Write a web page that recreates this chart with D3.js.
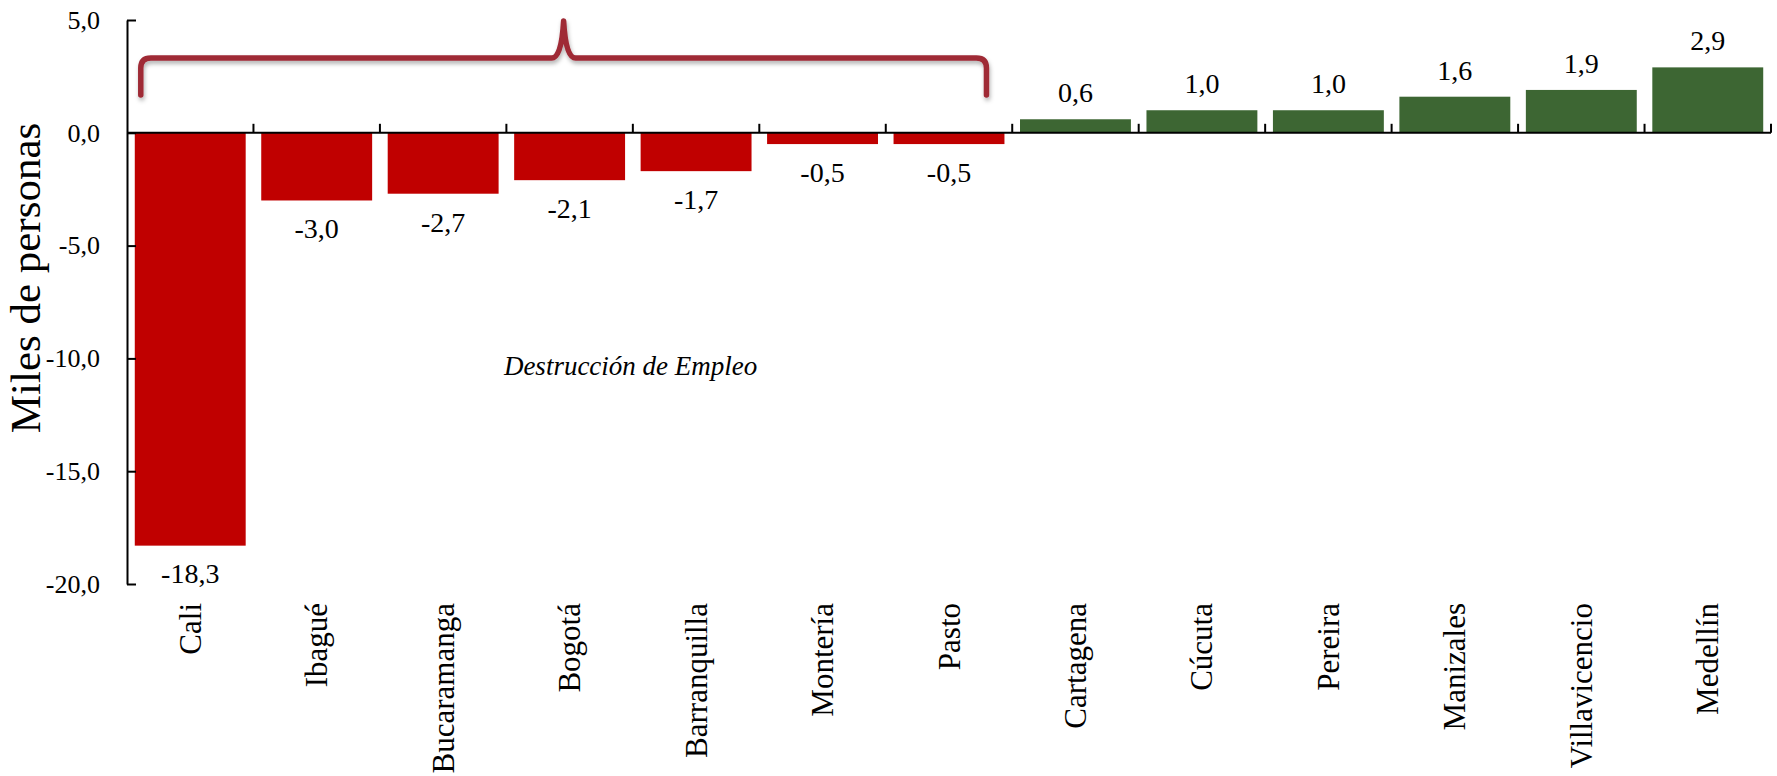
<!DOCTYPE html>
<html>
<head>
<meta charset="utf-8">
<script src="https://cdn.jsdelivr.net/npm/d3@7"></script>
<style>
  html, body { margin: 0; padding: 0; background: #ffffff; }
  svg { display: block; }
  text { font-family: "Liberation Serif", "Times New Roman", serif; fill: #000; }
</style>
</head>
<body>
<svg id="chart" width="1777" height="776"></svg>
<script>
// Variación del empleo por ciudad (miles de personas)
const cities = ["Cali", "Ibagué", "Bucaramanga", "Bogotá", "Barranquilla", "Montería", "Pasto",
                "Cartagena", "Cúcuta", "Pereira", "Manizales", "Villavicencio", "Medellín"];
const changes = [-18.3, -3.0, -2.7, -2.1, -1.7, -0.5, -0.5, 0.6, 1.0, 1.0, 1.6, 1.9, 2.9];
const yTicks = [5, 0, -5, -10, -15, -20];
const yTitle = "Miles de personas";
const braceNote = "Destrucción de Empleo";
// cities covered by the brace
const braceFrom = "Cali";
const braceTo = "Pasto";

(function () {
  const svg = d3.select("#chart");
  const plotLeft = 127, plotRight = 1771, plotTop = 20, plotBottom = 584;

  const locale = d3.formatLocale({ decimal: ",", thousands: ".", grouping: [3], currency: ["$", ""], minus: "-" });
  const fmt = locale.format(".1f");

  const x = d3.scaleBand().domain(cities).range([plotLeft, plotRight]).paddingInner(0.123).paddingOuter(0.0615);
  const y = d3.scaleLinear().domain([-20, 5]).range([plotBottom, plotTop]);
  const step = x.step(), bw = x.bandwidth();

  const data = cities.map((c, i) => ({ city: c, value: changes[i] }));

  // drop shadow for the brace
  const defs = svg.append("defs");
  const f = defs.append("filter").attr("id", "shadow").attr("x", "-5%").attr("y", "-50%").attr("width", "110%").attr("height", "200%");
  f.append("feDropShadow").attr("dx", 1).attr("dy", 3).attr("stdDeviation", 2)
    .attr("flood-color", "#000").attr("flood-opacity", 0.3);

  // bars
  svg.append("g").selectAll("rect").data(data).join("rect")
    .attr("x", d => x(d.city))
    .attr("width", bw)
    .attr("y", d => y(Math.max(0, d.value)))
    .attr("height", d => Math.abs(y(d.value) - y(0)))
    .attr("fill", d => d.value < 0 ? "#C00000" : "#3D6633");

  // value labels
  svg.append("g").selectAll("text").data(data).join("text")
    .attr("x", d => x(d.city) + bw / 2)
    .attr("y", d => d.value < 0 ? y(d.value) + 28 : y(d.value) - 27)
    .attr("dy", "0.35em")
    .attr("text-anchor", "middle")
    .style("font-size", "28px")
    .text(d => fmt(d.value));

  // y axis with inward ticks
  const yAxis = d3.axisLeft(y).tickValues(yTicks).tickFormat(fmt).tickSizeInner(-9).tickSizeOuter(0).tickPadding(27);
  const gy = svg.append("g").attr("transform", `translate(${plotLeft},0)`).call(yAxis);
  gy.select(".domain").attr("stroke", "#000").attr("stroke-width", 2);
  gy.selectAll(".tick line").attr("stroke", "#000").attr("stroke-width", 2);
  gy.selectAll(".tick text").attr("fill", "#000").style("font-size", "26px").style("font-family", "Liberation Serif, serif");

  // category axis at zero, ticks at category boundaries pointing up
  const gx = svg.append("g");
  gx.append("line").attr("x1", plotLeft).attr("x2", plotRight).attr("y1", y(0)).attr("y2", y(0))
    .attr("stroke", "#000").attr("stroke-width", 2);
  gx.selectAll("line.tick").data(cities).join("line").attr("class", "tick")
    .attr("x1", d => x(d) + bw + (step - bw) / 2)
    .attr("x2", d => x(d) + bw + (step - bw) / 2)
    .attr("y1", y(0)).attr("y2", y(0) - 9)
    .attr("stroke", "#000").attr("stroke-width", 2);

  // category labels, rotated
  svg.append("g").selectAll("text").data(cities).join("text")
    .attr("transform", d => `translate(${x(d) + bw / 2 + 10.5},603) rotate(-90)`)
    .attr("text-anchor", "end")
    .style("font-size", "31px")
    .text(d => d);

  // y axis title
  svg.append("text")
    .attr("transform", `translate(40,278) rotate(-90)`)
    .attr("text-anchor", "middle")
    .style("font-size", "43px")
    .text(yTitle);

  // brace over the cities that lost jobs
  const bx0 = x(braceFrom) + 6, bx1 = x(braceTo) + bw - 18;
  const bmid = (bx0 + bx1) / 2;
  const yLine = 58, yEnd = 95, yPeak = 21, r = 10;
  const p = d3.path();
  p.moveTo(bx0, yEnd);
  p.lineTo(bx0, yLine + r);
  p.quadraticCurveTo(bx0, yLine, bx0 + r, yLine);
  p.lineTo(bmid - 12, yLine);
  p.quadraticCurveTo(bmid - 2, yLine, bmid, yPeak);
  p.quadraticCurveTo(bmid + 2, yLine, bmid + 12, yLine);
  p.lineTo(bx1 - r, yLine);
  p.quadraticCurveTo(bx1, yLine, bx1, yLine + r);
  p.lineTo(bx1, yEnd);
  svg.append("path").attr("d", p.toString())
    .attr("fill", "none").attr("stroke", "#9F2936").attr("stroke-width", 5.5)
    .attr("stroke-linecap", "round").attr("stroke-linejoin", "round")
    .attr("filter", "url(#shadow)");

  // annotation
  svg.append("text")
    .attr("x", bmid + 67).attr("y", 366)
    .attr("dy", "0.35em")
    .attr("text-anchor", "middle")
    .style("font-size", "27px").style("font-style", "italic")
    .text(braceNote);
})();
</script>
</body>
</html>
